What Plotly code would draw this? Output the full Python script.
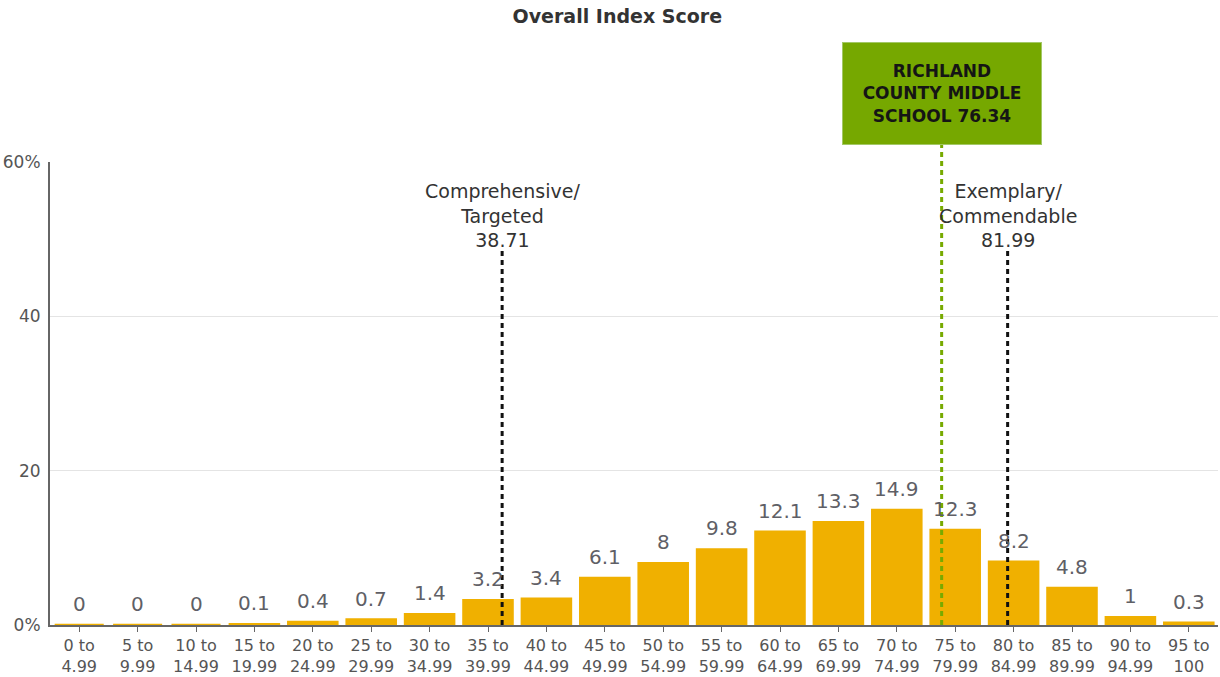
import plotly.graph_objects as go

categories = ["0 to<br>4.99", "5 to<br>9.99", "10 to<br>14.99", "15 to<br>19.99", "20 to<br>24.99",
              "25 to<br>29.99", "30 to<br>34.99", "35 to<br>39.99", "40 to<br>44.99", "45 to<br>49.99",
              "50 to<br>54.99", "55 to<br>59.99", "60 to<br>64.99", "65 to<br>69.99", "70 to<br>74.99",
              "75 to<br>79.99", "80 to<br>84.99", "85 to<br>89.99", "90 to<br>94.99", "95 to<br>100"]
bin_starts = [0, 5, 10, 15, 20, 25, 30, 35, 40, 45, 50, 55, 60, 65, 70, 75, 80, 85, 90, 95]
values = [0, 0, 0, 0.1, 0.4, 0.7, 1.4, 3.2, 3.4, 6.1, 8, 9.8, 12.1, 13.3, 14.9, 12.3, 8.2, 4.8, 1, 0.3]
value_labels = ["0", "0", "0", "0.1", "0.4", "0.7", "1.4", "3.2", "3.4", "6.1", "8", "9.8", "12.1",
                "13.3", "14.9", "12.3", "8.2", "4.8", "1", "0.3"]
y_ticks = [0, 20, 40, 60]
y_tick_labels = ["0%", "20", "40", "60%"]

cut_low = 38.71
cut_high = 81.99
school_score = 76.34
school_name = "RICHLAND<br>COUNTY MIDDLE<br>SCHOOL 76.34"

FONT = "'DejaVu Sans', sans-serif"
BAR = "#F0B000"

centers = [s + 2.5 for s in bin_starts]

fig = go.Figure()
fig.add_trace(go.Bar(
    x=centers, y=values, width=4.2,
    marker=dict(color=BAR, line=dict(color=BAR, width=2.5)),
    hoverinfo="skip",
))

# value labels above bars
for xc, v, lab in zip(centers, values, value_labels):
    fig.add_annotation(x=xc, y=v, xref="x", yref="y", yanchor="bottom", yshift=7,
                       text=lab, showarrow=False,
                       font=dict(family=FONT, size=20, color="#5f5f66"))

# threshold lines
for xv in (cut_low, cut_high):
    fig.add_shape(type="line", xref="x", yref="paper", x0=xv, x1=xv, y0=0, y1=0.81,
                  line=dict(color="#111111", width=3, dash="5px,4px"))
fig.add_shape(type="line", xref="x", yref="paper", x0=school_score, x1=school_score, y0=0, y1=1.037,
              line=dict(color="#77AA00", width=3, dash="5px,4px"))

fig.add_annotation(x=cut_low, y=0.812, xref="x", yref="paper", yanchor="bottom", yshift=-4,
                   text="Comprehensive/<br>Targeted<br>38.71", showarrow=False,
                   font=dict(family=FONT, size=19, color="#333333"))
fig.add_annotation(x=cut_high, y=0.812, xref="x", yref="paper", yanchor="bottom", yshift=-4,
                   text="Exemplary/<br>Commendable<br>81.99", showarrow=False,
                   font=dict(family=FONT, size=19, color="#333333"))
fig.add_annotation(x=school_score, y=1.148, xref="x", yref="paper", yanchor="middle",
                   text=school_name, showarrow=False, width=196, height=99,
                   bgcolor="#76A800", bordercolor="#A3C866", borderwidth=1, borderpad=1,
                   font=dict(family=FONT, size=17, color="#151515", weight="bold"))

fig.update_layout(
    width=1220, height=677,
    margin=dict(l=50, r=2, t=162, b=52),
    paper_bgcolor="white", plot_bgcolor="white",
    showlegend=False,
    title=dict(text="Overall Index Score", x=0.506, xref="container", xanchor="center",
               y=0.976, yanchor="middle",
               font=dict(family=FONT, size=19, color="#333333", weight="bold")),
    xaxis=dict(range=[0, 100], tickmode="array", tickvals=centers, ticktext=categories,
               ticks="outside", ticklen=5, tickcolor="#666666", showgrid=False,
               showline=True, linecolor="#666666", linewidth=2, zeroline=False,
               ticklabelstandoff=0,
               tickfont=dict(family=FONT, size=16, color="#555555"), automargin=False),
    yaxis=dict(range=[0, 60], tickmode="array", tickvals=y_ticks, ticktext=y_tick_labels,
               showgrid=True, gridcolor="#e4e4e4", gridwidth=1, zeroline=False,
               showline=True, linecolor="#666666", linewidth=2, ticks="",
               ticklabelstandoff=4,
               tickfont=dict(family=FONT, size=17, color="#555555"), automargin=False),
)

fig.write_html("out.html", post_script="document.body.style.margin='0';",
               config={"displayModeBar": False})
